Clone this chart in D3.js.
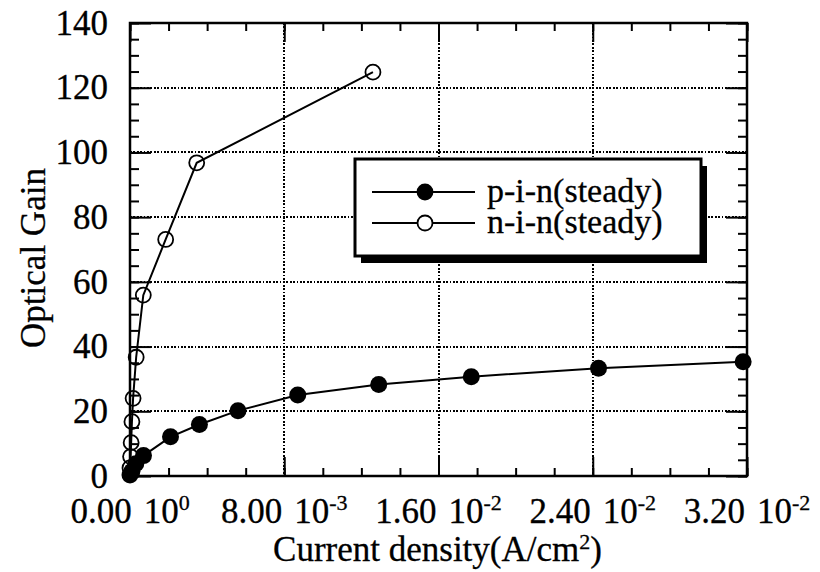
<!DOCTYPE html>
<html>
<head>
<meta charset="utf-8">
<script src="https://cdn.jsdelivr.net/npm/d3@7"></script>
<style>
  body { margin: 0; background: #fff; }
  text { font-family: "Liberation Serif", "Times New Roman", serif; fill: #000; stroke: #000; stroke-width: 0.3px; }
</style>
</head>
<body>
<div id="chart"></div>
<script>
// p-i-n (steady): current density (A/cm2) and optical gain
const pinJ    = [0, 0.0001, 0.0003, 0.0007, 0.0021, 0.0036, 0.0056, 0.0087, 0.0129, 0.0177, 0.0243, 0.0318];
const pinGain = [0.3, 1.5, 3.8, 6.3, 12.1, 15.9, 20.2, 25.0, 28.3, 30.7, 33.3, 35.3];

// n-i-n (steady)
const ninJ    = [0, 0.00003, 0.00006, 0.0001, 0.00016, 0.00032, 0.00069, 0.00185, 0.00346, 0.0126];
const ninGain = [2.5, 6.0, 10.3, 16.8, 24.0, 36.7, 55.9, 73.1, 96.8, 124.8];

const seriesNames = ["p-i-n(steady)", "n-i-n(steady)"];

// axis ticks
const xTicks = [0, 0.008, 0.016, 0.024, 0.032];
const xTickMantissa = ["0.00", "8.00", "1.60", "2.40", "3.20"];
const xTickExponent = ["0", "-3", "-2", "-2", "-2"];
const xMinorTicks = d3.range(0, 17).map(i => i * 0.002);
const yTicks = [0, 20, 40, 60, 80, 100, 120, 140];
const yMinorTicks = d3.range(0, 29).map(i => i * 5);

const margin = {top: 23, right: 73, bottom: 96, left: 130},
    width = 820 - margin.left - margin.right,
    height = 572 - margin.top - margin.bottom;

const svg = d3.select("#chart")
  .append("svg")
    .attr("width", 820)
    .attr("height", 572);

const g = svg.append("g")
    .attr("transform", `translate(${margin.left},${margin.top})`);

const x = d3.scaleLinear().domain([0, 0.032]).range([0, width]);
const y = d3.scaleLinear().domain([0, 140]).range([height, 0]);

// dotted grid
g.append("g")
  .selectAll("line")
  .data(xTicks.slice(1, -1))
  .join("line")
    .attr("x1", d => Math.round(x(d))).attr("x2", d => Math.round(x(d)))
    .attr("y1", 0).attr("y2", height)
    .attr("stroke", "#000").attr("stroke-width", 2)
    .attr("stroke-dasharray", "1.7,1.7")
    .attr("shape-rendering", "crispEdges");

g.append("g")
  .selectAll("line")
  .data(yTicks.slice(1, -1))
  .join("line")
    .attr("y1", d => Math.round(y(d))).attr("y2", d => Math.round(y(d)))
    .attr("x1", 0).attr("x2", width)
    .attr("stroke", "#000").attr("stroke-width", 2)
    .attr("stroke-dasharray", "1.7,1.7")
    .attr("shape-rendering", "crispEdges");

// tick marks on all four sides (inward)
function ticks(axis, values, size, transform) {
  const a = g.append("g")
    .attr("transform", transform)
    .call(axis.tickValues(values).tickSize(size).tickFormat(""));
  a.select(".domain").remove();
  a.selectAll(".tick line").attr("stroke", "#000").attr("stroke-width", 2);
}
ticks(d3.axisBottom(x), xMinorTicks, -8, `translate(0,${height})`);
ticks(d3.axisBottom(x), xTicks, -19, `translate(0,${height})`);
ticks(d3.axisTop(x), xMinorTicks, -8, "translate(0,0)");
ticks(d3.axisTop(x), xTicks, -19, "translate(0,0)");
ticks(d3.axisLeft(y), yMinorTicks, -9, "translate(0,0)");
ticks(d3.axisLeft(y), yTicks, -21, "translate(0,0)");
ticks(d3.axisRight(y), yMinorTicks, -9, `translate(${width},0)`);
ticks(d3.axisRight(y), yTicks, -21, `translate(${width},0)`);

// frame
g.append("rect")
    .attr("width", width).attr("height", height)
    .attr("fill", "none").attr("stroke", "#000").attr("stroke-width", 2.5);

// y tick labels
const yAxis = g.append("g")
    .call(d3.axisLeft(y).tickValues(yTicks).tickSize(0).tickPadding(22));
yAxis.select(".domain").remove();
yAxis.selectAll("text")
    .style("font-family", "'Liberation Serif', 'Times New Roman', serif")
    .style("font-size", "35px")
    .attr("fill", "#000");

// x tick labels with powers of ten
const xLab = g.append("g")
  .selectAll("text")
  .data(xTicks)
  .join("text")
    .attr("x", d => x(d))
    .attr("y", height + 47)
    .attr("text-anchor", "middle")
    .style("font-size", "35px");
xLab.append("tspan").text((d, i) => xTickMantissa[i]);
xLab.append("tspan").attr("dx", 12).text("10");
xLab.append("tspan")
    .attr("dy", -13)
    .style("font-size", "22px")
    .text((d, i) => xTickExponent[i]);

// axis titles
const xTitle = svg.append("text")
    .attr("x", margin.left + width / 2 - 1)
    .attr("y", 561)
    .attr("text-anchor", "middle")
    .style("font-size", "35px")
    .text("Current density(A/cm");
xTitle.append("tspan").attr("dy", -12).style("font-size", "22px").text("2");
xTitle.append("tspan").attr("dy", 12).text(")");

svg.append("text")
    .attr("transform", "translate(45,258) rotate(-90)")
    .attr("text-anchor", "middle")
    .style("font-size", "35px")
    .text("Optical Gain");

// series
const pinData = pinJ.map((d, i) => ({j: d, gain: pinGain[i]}));
const ninData = ninJ.map((d, i) => ({j: d, gain: ninGain[i]}));

const line = d3.line()
    .x(d => x(d.j))
    .y(d => y(d.gain));

g.append("path")
    .datum(pinData)
    .attr("d", line)
    .attr("fill", "none").attr("stroke", "#000").attr("stroke-width", 2);

g.append("path")
    .datum(ninData)
    .attr("d", line)
    .attr("fill", "none").attr("stroke", "#000").attr("stroke-width", 2);

g.append("g")
  .selectAll("circle")
  .data(ninData)
  .join("circle")
    .attr("cx", d => x(d.j))
    .attr("cy", d => y(d.gain))
    .attr("r", 7.5)
    .attr("fill", "#fff").attr("fill-opacity", 0)
    .attr("stroke", "#000").attr("stroke-width", 1.8);

g.append("g")
  .selectAll("circle")
  .data(pinData)
  .join("circle")
    .attr("cx", d => x(d.j))
    .attr("cy", d => y(d.gain))
    .attr("r", 8.5)
    .attr("fill", "#000");

// legend box with drop shadow
const legend = svg.append("g").attr("transform", "translate(355,159)");
legend.append("rect")
    .attr("x", 6).attr("y", 7)
    .attr("width", 346).attr("height", 97)
    .attr("fill", "#000");
legend.append("rect")
    .attr("width", 346).attr("height", 97)
    .attr("fill", "#fff").attr("stroke", "#000").attr("stroke-width", 3);

const rows = legend.selectAll(".row")
  .data(seriesNames)
  .join("g")
    .attr("class", "row")
    .attr("transform", (d, i) => `translate(0,${i === 0 ? 33 : 64})`);
rows.append("line")
    .attr("x1", 17).attr("x2", 120)
    .attr("stroke", "#000").attr("stroke-width", 2);
rows.append("circle")
    .attr("cx", 70).attr("r", 7.5)
    .attr("fill", (d, i) => i === 0 ? "#000" : "#fff")
    .attr("stroke", "#000").attr("stroke-width", 1.8);
rows.append("text")
    .attr("x", 132)
    .attr("y", 10)
    .style("font-size", "34px")
    .text(d => d);
</script>
</body>
</html>
